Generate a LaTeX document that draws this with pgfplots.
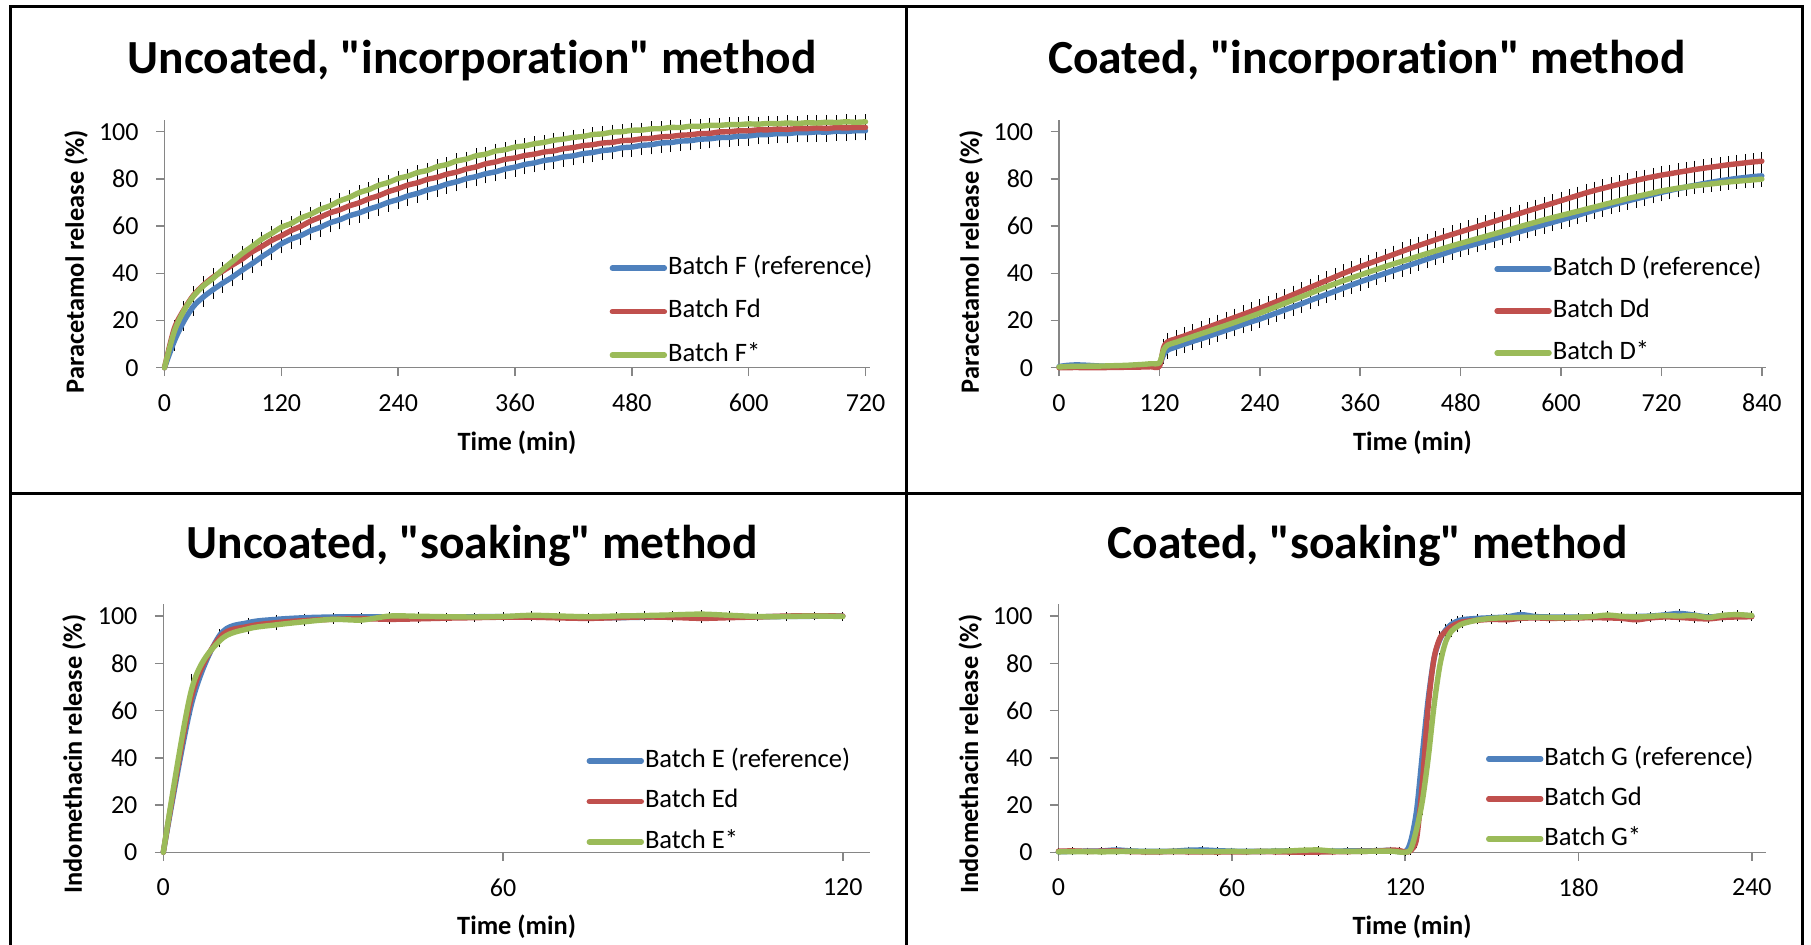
\documentclass[border=0pt]{standalone}
\usepackage{fontspec}
\setmainfont{Carlito}[Ligatures=NoCommon]
\usepackage{pgfplots}
\usepackage{pgfplotstable}
\pgfplotsset{compat=1.18}

\definecolor{xlblue}{HTML}{4F81BD}
\definecolor{xlred}{HTML}{C0504D}
\definecolor{xlgreen}{HTML}{9BBB59}
\definecolor{axgray}{HTML}{868686}

\newcommand{\titlefont}{\bfseries\fontsize{23.75}{28}\selectfont}
\newcommand{\labfont}{\bfseries\fontsize{13.2}{15}\selectfont}
\newcommand{\tickfont}{\fontsize{13}{15}\selectfont}
\newcommand{\legfont}{\fontsize{13.3}{15}\selectfont}
\newcommand{\q}{\textquotedbl}

% ---------- Uncoated, incorporation (paracetamol) ----------
\pgfplotstableread{
t v
0 0
10 11.2
20 19.8
30 26.1
40 30.0
50 33.1
60 35.9
70 38.5
80 41.4
90 44.1
100 47.0
110 49.7
120 52.5
130 54.5
140 56.0
150 58.0
160 59.5
170 61.4
180 62.7
190 64.4
200 65.6
210 67.2
220 68.5
230 70.1
240 71.3
250 72.8
260 73.9
270 75.3
280 76.4
290 77.8
300 78.8
310 80.1
320 81.0
330 82.2
340 83.0
350 84.2
360 85.0
370 86.1
380 86.8
390 87.8
400 88.4
410 89.3
420 89.8
430 90.7
440 91.2
450 92.0
460 92.4
470 93.2
480 93.5
490 94.2
500 94.5
510 95.2
520 95.4
530 96.0
540 96.2
550 96.8
560 97.0
570 97.5
580 97.6
590 98.1
600 98.2
610 98.7
620 98.8
630 99.2
640 99.2
650 99.6
660 99.6
670 99.9
680 99.8
690 100.2
700 100.1
710 100.4
720 100.4
}\tabF

\pgfplotstableread{
t v
0 0
10 16.5
20 24.6
30 30.8
40 35.0
50 38.4
60 41.0
70 43.6
80 46.1
90 49.1
100 51.4
110 53.9
120 55.9
130 58.1
140 59.9
150 62.1
160 63.8
170 65.6
180 66.9
190 68.6
200 69.9
210 71.6
220 72.9
230 74.6
240 75.9
250 77.4
260 78.4
270 79.8
280 80.7
290 82.0
300 82.9
310 84.2
320 85.1
330 86.4
340 87.2
350 88.3
360 88.9
370 89.9
380 90.5
390 91.4
400 91.9
410 92.8
420 93.3
430 94.1
440 94.5
450 95.2
460 95.5
470 96.2
480 96.4
490 97.0
500 97.2
510 97.8
520 98.0
530 98.5
540 98.7
550 99.2
560 99.3
570 99.9
580 100.0
590 100.4
600 100.4
610 100.8
620 100.8
630 101.1
640 101.0
650 101.3
660 101.3
670 101.6
680 101.4
690 101.7
700 101.6
710 101.8
720 101.8
}\tabFd

\pgfplotstableread{
t v
0 0
10 15.3
20 24.2
30 30.4
40 34.7
50 37.9
60 41.7
70 45.1
80 48.5
90 51.4
100 54.5
110 56.9
120 59.5
130 61.1
140 63.4
150 65.0
160 67.1
170 68.6
180 70.7
190 72.2
200 74.2
210 75.5
220 77.3
230 78.5
240 80.2
250 81.2
260 82.7
270 83.6
280 85.2
290 86.1
300 87.6
310 88.4
320 89.8
330 90.5
340 91.8
350 92.4
360 93.5
370 94.0
380 94.9
390 95.5
400 96.4
410 96.9
420 97.6
430 98.0
440 98.8
450 99.1
460 99.8
470 100.0
480 100.6
490 100.7
500 101.2
510 101.3
520 101.8
530 101.8
540 102.3
550 102.3
560 102.7
570 102.7
580 103.0
590 103.0
600 103.3
610 103.2
620 103.5
630 103.4
640 103.7
650 103.5
660 103.8
670 103.7
680 104.0
690 103.9
700 104.2
710 104.0
720 104.2
}\tabFs

% ---------- Coated, incorporation (paracetamol) ----------
\pgfplotstableread{
t v
0 0.5
10 1.0
20 1.2
30 1.1
40 0.9
50 0.7
60 0.6
70 0.7
80 0.8
90 0.9
100 1.1
110 1.3
120 1.5
125 5.5
130 7.5
140 8.8
150 10.0
160 11.2
170 12.3
180 13.5
190 14.7
200 15.9
210 17.1
220 18.3
230 19.5
240 20.6
250 21.9
260 23.2
270 24.5
280 25.8
290 27.1
300 28.5
310 29.8
320 31.1
330 32.4
340 33.8
350 35.1
360 36.4
370 37.6
380 38.8
390 40.0
400 41.2
410 42.4
420 43.6
430 44.8
440 46.0
450 47.2
460 48.3
470 49.5
480 50.6
490 51.6
500 52.6
510 53.6
520 54.6
530 55.6
540 56.6
550 57.6
560 58.6
570 59.6
580 60.6
590 61.6
600 62.6
610 63.6
620 64.6
630 65.7
640 66.8
650 67.8
660 68.8
670 69.8
680 70.7
690 71.6
700 72.5
710 73.4
720 74.3
730 75.1
740 75.9
750 76.6
760 77.3
770 78.0
780 78.6
790 79.2
800 79.7
810 80.2
820 80.6
830 81.0
840 81.3
}\tabD

\pgfplotstableread{
t v
0 0.0
10 0.0
20 0.1
30 0.0
40 0.0
50 0.0
60 0.1
70 0.1
80 0.2
90 0.2
100 0.3
110 0.4
120 0.6
125 8.5
130 11.0
140 12.3
150 13.5
160 14.8
170 16.1
180 17.4
190 18.7
200 20.0
210 21.3
220 22.6
230 23.9
240 25.2
250 26.6
260 28.0
270 29.5
280 31.0
290 32.5
300 34.0
310 35.5
320 37.0
330 38.5
340 40.0
350 41.4
360 42.8
370 44.1
380 45.4
390 46.7
400 48.0
410 49.3
420 50.6
430 51.8
440 53.0
450 54.2
460 55.4
470 56.5
480 57.6
490 58.7
500 59.8
510 60.9
520 62.0
530 63.1
540 64.2
550 65.3
560 66.4
570 67.5
580 68.6
590 69.7
600 70.8
610 71.9
620 73.0
630 74.1
640 75.1
650 76.0
660 76.9
670 77.8
680 78.6
690 79.4
700 80.2
710 80.9
720 81.6
730 82.2
740 82.8
750 83.4
760 84.0
770 84.5
780 85.0
790 85.5
800 86.0
810 86.4
820 86.8
830 87.2
840 87.5
}\tabDd

\pgfplotstableread{
t v
0 0.3
10 0.5
20 0.6
30 0.6
40 0.7
50 0.7
60 0.8
70 0.9
80 1.0
90 1.2
100 1.4
110 1.7
120 2.1
125 7.5
130 9.6
140 10.8
150 12.0
160 13.2
170 14.4
180 15.6
190 16.8
200 18.0
210 19.2
220 20.5
230 21.8
240 23.1
250 24.5
260 25.9
270 27.3
280 28.7
290 30.1
300 31.5
310 32.9
320 34.3
330 35.6
340 36.9
350 38.1
360 39.3
370 40.5
380 41.7
390 42.9
400 44.0
410 45.1
420 46.2
430 47.3
440 48.4
450 49.5
460 50.6
470 51.7
480 52.7
490 53.7
500 54.7
510 55.7
520 56.7
530 57.7
540 58.7
550 59.7
560 60.7
570 61.7
580 62.7
590 63.6
600 64.5
610 65.4
620 66.3
630 67.2
640 68.1
650 69.0
660 69.9
670 70.8
680 71.7
690 72.5
700 73.3
710 74.1
720 74.9
730 75.5
740 76.1
750 76.6
760 77.1
770 77.5
780 77.9
790 78.3
800 78.7
810 79.0
820 79.3
830 79.6
840 79.9
}\tabDs

% ---------- Uncoated, soaking (indomethacin) ----------
\pgfplotstableread{
t v e
0 0 0
5 63 3.5
10 92 1.2
15 97.2 0.8
20 98.6 0.6
25 99.3 0.5
30 99.6 0.4
35 99.7 0.4
40 99.6 0.4
45 99.5 0.4
50 99.6 0.4
55 99.7 0.4
60 99.8 0.4
65 99.7 0.4
70 99.5 0.4
75 99.3 0.4
80 99.3 0.4
85 99.5 0.4
90 99.8 0.4
95 100.0 0.4
100 99.8 0.4
105 99.7 0.4
110 99.8 0.4
115 99.9 0.4
120 100.0 0.4
}\tabE

\pgfplotstableread{
t v e
0 0 0
5 66 5
10 91 1.3
15 95.6 0.9
20 97.2 0.7
25 98.1 0.6
30 98.6 0.5
35 98.9 0.5
40 98.6 0.5
45 98.8 0.5
50 99.1 0.5
55 99.3 0.5
60 99.5 0.5
65 99.5 0.5
70 99.2 0.5
75 99.0 0.5
80 99.3 0.5
85 99.6 0.5
90 99.4 0.5
95 99.0 0.5
100 99.3 0.5
105 99.6 0.5
110 100.0 0.5
115 100.1 0.5
120 100.0 0.5
}\tabEd

\pgfplotstableread{
t v e
0 0 0
5 69 5.3
10 89.6 1.6
15 94.6 1.0
20 96.3 0.8
25 97.6 0.6
30 98.6 0.5
35 98.3 0.5
40 100.0 0.5
45 99.9 0.5
50 99.7 0.5
55 99.6 0.5
60 99.8 0.5
65 100.3 0.5
70 100.0 0.5
75 99.7 0.5
80 100.0 0.5
85 100.2 0.5
90 100.5 0.5
95 100.8 0.5
100 100.3 0.5
105 99.8 0.5
110 99.8 0.5
115 100.0 0.5
120 99.8 0.5
}\tabEs

% ---------- Coated, soaking (indomethacin) ----------
\pgfplotstableread{
t v e
0 0.2 0.2
5 0.4 0.2
10 0.5 0.2
15 0.6 0.2
20 1.0 0.2
25 0.6 0.2
30 0.4 0.2
35 0.4 0.2
40 0.5 0.2
45 0.9 0.2
50 1.0 0.2
55 0.7 0.2
60 0.5 0.2
65 0.4 0.2
70 0.4 0.2
75 0.5 0.2
80 0.6 0.2
85 0.5 0.2
90 0.4 0.2
95 0.5 0.2
100 0.6 0.2
105 0.6 0.2
110 0.7 0.2
115 0.8 0.2
120 0.3 0.2
122 5 2
124 18 5
126 42 6
128 65 5
130 82 3
132 90 2
134 94 1.5
136 96.5 1
138 97.8 0.8
140 98.5 0.6
145 99.0 0.5
150 99.3 0.5
155 99.6 0.5
160 100.6 0.5
165 99.8 0.5
170 99.6 0.5
175 99.6 0.5
180 99.5 0.5
185 99.6 0.5
190 99.8 0.5
195 99.7 0.5
200 99.8 0.5
205 100.0 0.5
210 100.5 0.5
215 101.1 0.5
220 100.4 0.5
225 99.6 0.5
230 100.1 0.5
235 100.4 0.5
240 100.0 0.5
}\tabG

\pgfplotstableread{
t v e
0 0.5 0.2
5 0.6 0.2
10 0.4 0.2
15 0.5 0.2
20 0.6 0.2
25 0.3 0.2
30 0.2 0.2
35 0.2 0.2
40 0.3 0.2
45 0.2 0.2
50 0.2 0.2
55 0.1 0.2
60 0.2 0.2
65 0.2 0.2
70 0.3 0.2
75 0.2 0.2
80 0.1 0.2
85 0.0 0.2
90 0.1 0.2
95 0.2 0.2
100 0.3 0.2
105 0.4 0.2
110 0.5 0.2
115 0.9 0.2
118 0.8 0.2
120 0.1 0.2
122 0.8 0.5
124 6 3
126 30 6
128 62 6
130 82 3
132 90.5 2
134 93.5 1.5
136 95.5 1
138 96.8 0.8
140 97.6 0.6
145 98.2 0.5
150 98.6 0.5
155 98.4 0.5
160 99.0 0.5
165 99.2 0.5
170 99.0 0.5
175 99.1 0.5
180 99.2 0.5
185 99.3 0.5
190 99.2 0.5
195 99.0 0.5
200 98.4 0.5
205 99.2 0.5
210 99.6 0.5
215 99.4 0.5
220 99.0 0.5
225 98.8 0.5
230 99.4 0.5
235 99.6 0.5
240 99.7 0.5
}\tabGd

\pgfplotstableread{
t v e
0 0.2 0.2
5 0.3 0.2
10 0.3 0.2
15 0.2 0.2
20 0.3 0.2
25 0.4 0.2
30 0.3 0.2
35 0.3 0.2
40 0.4 0.2
45 0.4 0.2
50 0.3 0.2
55 0.3 0.2
60 0.4 0.2
65 0.3 0.2
70 0.4 0.2
75 0.5 0.2
80 0.6 0.2
85 0.9 0.2
90 1.0 0.2
95 0.5 0.2
100 0.4 0.2
105 0.4 0.2
110 0.5 0.2
115 0.5 0.2
120 0.0 0.2
122 1.5 1
124 10 4
126 22 5
128 40 6
130 62 6
132 79 4
134 89 2
136 93.5 1.2
138 95.5 1
140 96.8 0.8
145 98.3 0.5
150 99.0 0.5
155 99.3 0.5
160 99.4 0.5
165 99.5 0.5
170 99.4 0.5
175 99.3 0.5
180 99.5 0.5
185 99.8 0.5
190 100.4 0.5
195 99.9 0.5
200 99.6 0.5
205 99.9 0.5
210 100.2 0.5
215 100.0 0.5
220 100.2 0.5
225 99.4 0.5
230 100.3 0.5
235 100.6 0.5
240 100.2 0.5
}\tabGs

\pgfplotsset{
  release/.style={
    scale only axis,
    clip=false,
    axis x line*=bottom, axis y line*=left,
    axis line style={draw=axgray, line width=0.75pt},
    every tick/.style={draw=axgray, line width=0.75pt},
    major tick length=4.25pt,
    tick align=outside,
    ymin=0, ymax=105, ytick={0,20,...,100},
    xmin=0,
    /pgf/number format/assume math mode=true,
    ticklabel style={font=\tickfont},
    yticklabel style={anchor=east, inner sep=0pt, xshift=-8.5pt},
    xticklabel style={anchor=center, inner sep=0pt, yshift=-13.4pt},
    label style={font=\labfont},
    title style={font=\titlefont, anchor=base, yshift=-6pt},
    legend cell align=left,
    legend image code/.code={\draw[##1, line width=2.7pt, line cap=round] (0pt,0pt) -- (26pt,0pt);},
    legend style={draw=none, fill=none, inner sep=0pt, outer sep=0pt,
      font=\legfont, anchor=north west, column sep=0.5pt,
      nodes={inner sep=0pt, text height=8.5pt, text depth=2.5pt}},
  },
  curve/.style={line width=2.7pt, smooth, line join=round, line cap=round, mark=none},
  errx/.style={draw=none, mark=none, forget plot,
    error bars/.cd, y dir=both, y explicit,
    error bar style={draw=black, line width=0.5pt, solid},
    error mark options={draw=black, mark size=1.5pt, line width=0.5pt}},
  errf/.style={draw=none, mark=none, forget plot,
    error bars/.cd, y dir=both, y fixed=#1,
    error bar style={draw=black, line width=0.5pt, solid},
    error mark options={draw=black, mark size=1.5pt, line width=0.5pt}},
}

\begin{document}
\begin{tikzpicture}
\useasboundingbox (0,0) rectangle (905.5pt,-472pt);

% Uncoated, "incorporation"
\begin{axis}[release,
  at={(82.25pt,-183.85pt)}, anchor=south west,
  width=352.75pt, height=123.9pt,
  xmax=724.6, xtick={0,120,...,720},
  title={Uncoated, \q incorporation\q{} method},
  title style={at={(axis description cs:0.4359,1.1893)}},
  xlabel={Time (min)}, ylabel={Paracetamol release (\%)},
  xlabel style={at={(axis description cs:0.4996,-0.3039)}, anchor=center},
  ylabel style={at={(axis description cs:-0.1254,0.4286)}, anchor=center},
  legend style={at={(axis description cs:0.631,0.446)}, row sep=10.75pt},
]
\addplot[skip coords between index={0}{1}, errf=2.8] table[x=t, y=v] {\tabF};
\addplot[skip coords between index={0}{1}, errf=2.4] table[x=t, y=v] {\tabFd};
\addplot[skip coords between index={0}{1}, errf=1.9] table[x=t, y=v] {\tabFs};
\addplot[curve, xlblue] table[x=t, y=v] {\tabF};
\addlegendentry{Batch F (reference)}
\addplot[curve, xlred] table[x=t, y=v] {\tabFd};
\addlegendentry{Batch Fd}
\addplot[curve, xlgreen] table[x=t, y=v] {\tabFs};
\addlegendentry{Batch F*}
\end{axis}

% Coated, "incorporation"
\begin{axis}[release,
  at={(529.5pt,-183.85pt)}, anchor=south west,
  width=353.5pt, height=123.9pt,
  xmax=845, xtick={0,120,...,840},
  title={Coated, \q incorporation\q{} method},
  title style={at={(axis description cs:0.4356,1.1893)}},
  xlabel={Time (min)}, ylabel={Paracetamol release (\%)},
  xlabel style={at={(axis description cs:0.5,-0.3039)}, anchor=center},
  ylabel style={at={(axis description cs:-0.1245,0.4286)}, anchor=center},
  legend style={at={(axis description cs:0.6158,0.4427)}, row sep=10pt},
]
\addplot[skip coords between index={0}{13}, errf=2.5] table[x=t, y=v] {\tabD};
\addplot[skip coords between index={0}{13}, errf=2.5] table[x=t, y=v] {\tabDd};
\addplot[skip coords between index={0}{13}, errf=2] table[x=t, y=v] {\tabDs};
\addplot[curve, xlblue] table[x=t, y=v] {\tabD};
\addlegendentry{Batch D (reference)}
\addplot[curve, xlred] table[x=t, y=v] {\tabDd};
\addlegendentry{Batch Dd}
\addplot[curve, xlgreen] table[x=t, y=v] {\tabDs};
\addlegendentry{Batch D*}
\end{axis}

% Uncoated, "soaking"
\begin{axis}[release,
  at={(81.65pt,-426.15pt)}, anchor=south west,
  width=353.35pt, height=124.05pt,
  xmax=124.8, xtick={0,60,120},
  title={Uncoated, \q soaking\q{} method},
  title style={at={(axis description cs:0.4368,1.1862)}},
  xlabel={Time (min)}, ylabel={Indomethacin release (\%)},
  xlabel style={at={(axis description cs:0.5,-0.301)}, anchor=center},
  ylabel style={at={(axis description cs:-0.1264,0.396)}, anchor=center},
  legend style={at={(axis description cs:0.599,0.4123)}, row sep=9.25pt},
]
\addplot[errx] table[x=t, y=v, y error=e] {\tabE};
\addplot[errx] table[x=t, y=v, y error=e] {\tabEd};
\addplot[errx] table[x=t, y=v, y error=e] {\tabEs};
\addplot[curve, xlblue] table[x=t, y=v] {\tabE};
\addlegendentry{Batch E (reference)}
\addplot[curve, xlred] table[x=t, y=v] {\tabEd};
\addlegendentry{Batch Ed}
\addplot[curve, xlgreen] table[x=t, y=v] {\tabEs};
\addlegendentry{Batch E*}
\end{axis}

% Coated, "soaking"
\begin{axis}[release,
  at={(529.2pt,-426.15pt)}, anchor=south west,
  width=353.65pt, height=124.05pt,
  xmax=244.8, xtick={0,60,...,240},
  title={Coated, \q soaking\q{} method},
  title style={at={(axis description cs:0.437,1.1862)}},
  xlabel={Time (min)}, ylabel={Indomethacin release (\%)},
  xlabel style={at={(axis description cs:0.5,-0.301)}, anchor=center},
  ylabel style={at={(axis description cs:-0.1244,0.396)}, anchor=center},
  legend style={at={(axis description cs:0.6046,0.4204)}, row sep=9pt},
]
\addplot[errx] table[x=t, y=v, y error=e] {\tabG};
\addplot[errx] table[x=t, y=v, y error=e] {\tabGd};
\addplot[errx] table[x=t, y=v, y error=e] {\tabGs};
\addplot[curve, xlblue] table[x=t, y=v] {\tabG};
\addlegendentry{Batch G (reference)}
\addplot[curve, xlred] table[x=t, y=v] {\tabGd};
\addlegendentry{Batch Gd}
\addplot[curve, xlgreen] table[x=t, y=v] {\tabGs};
\addlegendentry{Batch G*}
\end{axis}

% cell borders around the four panels
\draw[line width=1.5pt, line cap=rect] (5.2pt,-3.25pt) -- (901pt,-3.25pt);
\draw[line width=1.5pt] (5.2pt,-246.5pt) -- (901pt,-246.5pt);
\draw[line width=1.5pt] (5.2pt,-3.25pt) -- (5.2pt,-480pt);
\draw[line width=1.5pt] (453pt,-3.25pt) -- (453pt,-480pt);
\draw[line width=1.5pt] (901pt,-3.25pt) -- (901pt,-480pt);
\end{tikzpicture}
\end{document}
